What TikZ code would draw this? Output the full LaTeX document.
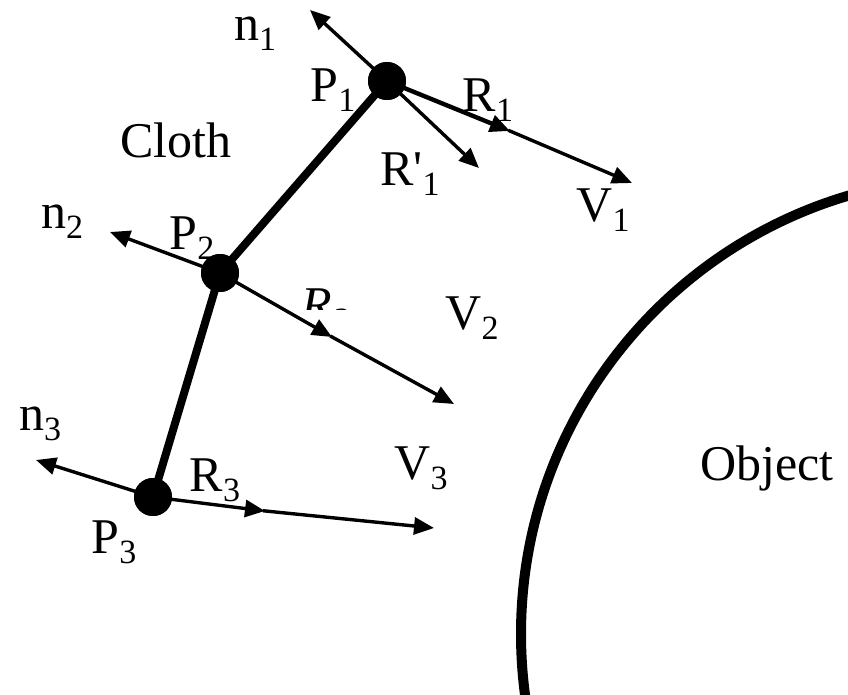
\documentclass[tikz,border=0pt]{standalone}
\usepackage{fontspec}
\setmainfont{Liberation Serif}
\usetikzlibrary{arrows.meta,calc}
\newcommand\mysub[1]{\raisebox{-0.2em}{\fontsize{34}{34}\selectfont #1}}
\tikzset{
  lbl/.style={font=\fontsize{50}{50}\selectfont, inner sep=0pt},
  dotnode/.style={circle, fill=black, minimum size=38pt, inner sep=0pt},
  vec/.style={line width=3.4pt, -{Triangle[length=20pt,width=17pt]}},
  link/.style={line width=8pt},
  plain/.style={line width=3.4pt}
}
\begin{document}
\begin{tikzpicture}[x=1pt,y=-1pt]
\useasboundingbox (0,0) rectangle (848,695);
% object boundary
\begin{scope}
\clip (0,0) rectangle (848,695);
\draw[line width=10pt] (978,634) circle (457);
\end{scope}
% points
\node[dotnode] (P1) at (387,81) {};
\node[dotnode] (P2) at (220,273) {};
\node[dotnode] (P3) at (153,497) {};
% cloth links
\draw[link] (P1.center) -- (P2.center);
\draw[link] (P2.center) -- (P3.center);
% arrow end points
\coordinate (n1e) at (310,10);
\coordinate (r1m) at (510,131);
\coordinate (v1e) at (632,183);
\coordinate (r1p) at (479,168);
\coordinate (n2e) at (110,232);
\coordinate (r2m) at (332,337);
\coordinate (v2e) at (454,404);
\coordinate (n3e) at (36,460);
\coordinate (r3m) at (265,511);
\coordinate (v3e) at (434,528);
% vectors at P1
\draw[vec] (P1.center) -- (n1e);
\draw[vec, line width=4.4pt] (P1.center) -- (r1m);
\draw[vec] ($(r1m)!2pt!(P1)$) -- (v1e);
\draw[vec] (P1.center) -- (r1p);
% vectors at P2
\draw[vec] (P2.center) -- (n2e);
\draw[vec] (P2.center) -- (r2m);
\draw[vec] ($(r2m)!2pt!(P2)$) -- (v2e);
% vectors at P3
\draw[vec] (P3.center) -- (n3e);
\draw[vec] (P3.center) -- (r3m);
\draw[vec] ($(r3m)!2pt!(P3)$) -- (v3e);
% redraw dots on top
\node[dotnode] at (P1) {};
\node[dotnode] at (P2) {};
\node[dotnode] at (P3) {};
% labels
\node[lbl] (ln1) at (255,34) {n\mysub{1}};
\node[lbl] (lP1) at (333,90) {P\mysub{1}};
\node[lbl] (lR1) at (488,100) {R\mysub{1}};
\node[lbl] (lR1p) at (410,174) {R\textquotesingle\mysub{1}};
\node[lbl] (lV1) at (603,210) {V\mysub{1}};
\node[lbl] (lcloth) at (176,140) {Cloth};
\node[lbl] (ln2) at (62,222) {n\mysub{2}};
\node[lbl] (lP2) at (192,238) {P\mysub{2}};
\begin{scope}
\clip (280,270) rectangle (360,309);
\node[lbl] (lR2) at (325,310) {\itshape R\mysub{2}};
\end{scope}
\node[lbl] (lV2) at (472,318) {V\mysub{2}};
\node[lbl] (ln3) at (40,424) {n\mysub{3}};
\node[lbl] (lV3) at (421,468) {V\mysub{3}};
\node[lbl] (lR3) at (215,480) {R\mysub{3}};
\node[lbl] (lP3) at (114,542) {P\mysub{3}};
\node[lbl] (lobj) at (767,468) {Object};
\end{tikzpicture}
\end{document}
